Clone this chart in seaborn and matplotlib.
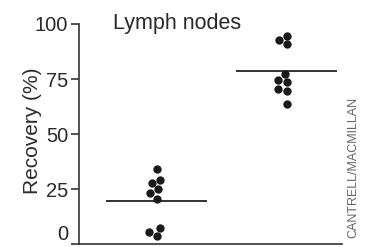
import numpy as np
import pandas as pd
import matplotlib
matplotlib.use("Agg")
import matplotlib.pyplot as plt
import seaborn as sns

groups = ["Group A", "Group B"]
group_a = [34.2, 29.2, 27.7, 25.0, 23.2, 20.6, 7.3, 5.5, 3.8]
group_b = [94.7, 92.9, 90.9, 77.3, 74.7, 73.6, 70.6, 69.7, 63.6]
yticks = [0, 25, 50, 75, 100]
title = "Lymph nodes"
ylabel = "Recovery (%)"
credit = "CANTRELL/MACMILLAN"

df = pd.DataFrame({
    "group": [groups[0]] * len(group_a) + [groups[1]] * len(group_b),
    "value": group_a + group_b,
})

sns.set_style("white")
plt.rcParams["font.family"] = ["Liberation Sans", "DejaVu Sans"]

fig = plt.figure(figsize=(3.69, 2.47), dpi=100)
ax = fig.add_axes([0.215, 0.011, 0.711, 0.892])

sns.swarmplot(data=df, x="group", y="value", order=groups, color="#1a1a1a",
              size=6.0, ax=ax, zorder=3)

for i, g in enumerate(groups):
    m = df.loc[df.group == g, "value"].mean()
    ax.hlines(m, i - 0.39, i + 0.39, color="#222222", lw=1.3, zorder=2)

ax.set_xlim(-0.595, 1.423)
ax.set_ylim(0, 100)
ax.set_yticks(yticks)
ax.set_yticklabels([str(t) for t in yticks], fontsize=14.5, color="#2a2a2a")
ax.get_yticklabels()[0].set_va("bottom")
ax.set_xticks([])
ax.set_xlabel("")
ax.set_ylabel(ylabel, fontsize=15, color="#2a2a2a")
ax.yaxis.set_label_coords(-0.143, 0.515)
ax.tick_params(axis="y", direction="out", length=6, width=1.2, color="#333333", pad=2, left=True)
for s in ["top", "right"]:
    ax.spines[s].set_visible(False)
for s in ["left", "bottom"]:
    ax.spines[s].set_color("#333333")
    ax.spines[s].set_linewidth(1.2)
    ax.spines[s].set_clip_on(False)

ax.text(0.128, 1.0, title, transform=ax.transAxes, fontsize=15.5, color="#2a2a2a",
        ha="left", va="center")
fig.text(353 / 369, 1 - 167 / 247, credit, rotation=90, fontsize=9, color="#666666",
         ha="center", va="center")

fig.savefig("out.png", dpi=100)
